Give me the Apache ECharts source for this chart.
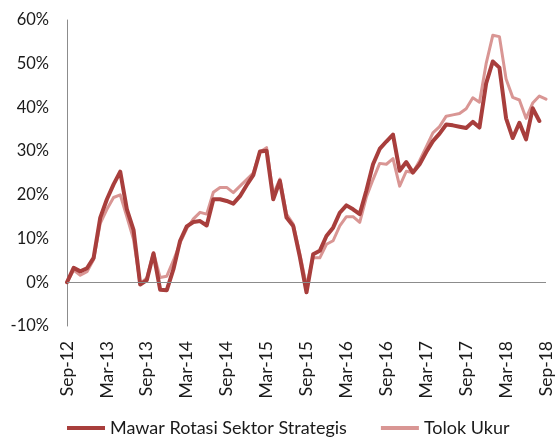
<!DOCTYPE html>
<html>
<head>
<meta charset="utf-8">
<script src="https://cdn.jsdelivr.net/npm/echarts@6/dist/echarts.min.js"></script>
<style>
  html, body { margin: 0; padding: 0; background: #fff; }
  #chart { width: 555px; height: 439px; }
</style>
</head>
<body>
<div id="chart"></div>
<script>
// monthly points, Sep-12 .. Sep-18
const months = [
  'Sep-12','Oct-12','Nov-12','Dec-12','Jan-13','Feb-13','Mar-13','Apr-13','May-13','Jun-13','Jul-13','Aug-13',
  'Sep-13','Oct-13','Nov-13','Dec-13','Jan-14','Feb-14','Mar-14','Apr-14','May-14','Jun-14','Jul-14','Aug-14',
  'Sep-14','Oct-14','Nov-14','Dec-14','Jan-15','Feb-15','Mar-15','Apr-15','May-15','Jun-15','Jul-15','Aug-15',
  'Sep-15','Oct-15','Nov-15','Dec-15','Jan-16','Feb-16','Mar-16','Apr-16','May-16','Jun-16','Jul-16','Aug-16',
  'Sep-16','Oct-16','Nov-16','Dec-16','Jan-17','Feb-17','Mar-17','Apr-17','May-17','Jun-17','Jul-17','Aug-17',
  'Sep-17','Oct-17','Nov-17','Dec-17','Jan-18','Feb-18','Mar-18','Apr-18','May-18','Jun-18','Jul-18','Aug-18',
  'Sep-18'
]

const fundName = 'Mawar Rotasi Sektor Strategis'
const benchName = 'Tolok Ukur'

// values in %
const fundValues = [
  0, 3.3, 2.5, 3.2, 5.6, 14.8, 19.0, 22.4, 25.3, 16.7, 12.0, -0.5,
  0.5, 6.6, -1.7, -1.8, 3.0, 9.5, 12.8, 13.8, 14.0, 13.0, 19.0, 19.0,
  18.6, 18.0, 19.7, 22.2, 24.5, 29.9, 30.1, 19.0, 23.2, 14.8, 12.9, 5.8,
  -2.3, 6.4, 7.2, 10.6, 12.5, 15.9, 17.6, 16.7, 15.6, 21.0, 27.0, 30.5,
  32.2, 33.8, 25.5, 27.5, 25.1, 27.0, 29.8, 32.3, 34.0, 36.1, 35.9, 35.6,
  35.3, 36.7, 35.4, 45.5, 50.5, 49.1, 37.5, 33.0, 36.5, 32.7, 39.8, 36.9
]

const benchValues = [
  0, 2.8, 1.6, 2.4, 5.2, 13.5, 16.7, 19.4, 20.0, 15.0, 9.8, -0.3,
  1.0, 6.8, 1.1, 1.4, 5.0, 9.0, 12.3, 14.5, 16.0, 15.6, 20.6, 21.7,
  21.7, 20.5, 22.0, 23.5, 25.0, 29.8, 30.8, 20.1, 23.6, 15.6, 13.3, 6.5,
  -0.8, 5.6, 5.6, 8.7, 9.5, 12.9, 15.0, 15.0, 13.7, 19.5, 23.5, 27.2,
  27.0, 28.3, 22.0, 25.4, 25.1, 27.8, 31.0, 34.2, 35.6, 38.0, 38.3, 38.6,
  39.7, 42.2, 41.2, 50.0, 56.5, 56.2, 46.5, 42.3, 41.7, 37.5, 41.0, 42.6,
  41.9
]

const fontName = 'Lato'
let chartDom = document.getElementById('chart')
let myChart = echarts.init(chartDom, null, {renderer: 'canvas'})

let option = {
  animation: false,
  backgroundColor: '#fff',
  grid: {left: 67, right: 0, top: 20, bottom: 113},
  legend: {
    data: [
      {name: fundName, icon: 'rect', itemStyle: {color: '#A83E3C'}},
      {name: benchName, icon: 'rect', itemStyle: {color: '#D99694'}}
    ],
    bottom: -3,
    left: 62,
    itemWidth: 38,
    itemHeight: 4,
    itemGap: 34,
    textStyle: {fontFamily: fontName, fontSize: 18, color: '#1a1a1a'}
  },
  xAxis: {
    type: 'category',
    data: months,
    boundaryGap: false,
    axisLine: {show: false, onZero: false},
    axisTick: {show: false},
    axisLabel: {
      interval: 5,
      rotate: 90,
      margin: 15,
      fontFamily: fontName,
      fontSize: 17.5,
      color: '#1a1a1a'
    },
    splitLine: {show: false}
  },
  yAxis: {
    type: 'value',
    min: -10,
    max: 60,
    interval: 10,
    axisLine: {show: true, lineStyle: {color: '#8c8c8c', width: 1}},
    axisTick: {show: false},
    axisLabel: {
      formatter: '{value}%',
      margin: 18,
      fontFamily: fontName,
      fontSize: 16.5,
      color: '#1a1a1a'
    },
    splitLine: {show: false}
  },
  series: [
    {
      name: fundName,
      type: 'line',
      data: fundValues,
      symbol: 'none',
      z: 4,
      lineStyle: {color: '#A83E3C', width: 4, join: 'round', cap: 'round'},
      itemStyle: {color: '#A83E3C'},
      markLine: {
        silent: true,
        symbol: 'none',
        label: {show: false},
        lineStyle: {color: '#8c8c8c', width: 1, type: 'solid'},
        data: [{yAxis: 0}]
      }
    },
    {
      name: benchName,
      type: 'line',
      data: benchValues,
      symbol: 'none',
      z: 3,
      lineStyle: {color: '#D99694', width: 3, join: 'round', cap: 'round'},
      itemStyle: {color: '#D99694'}
    }
  ]
}

myChart.setOption(option)
</script>
</body>
</html>
